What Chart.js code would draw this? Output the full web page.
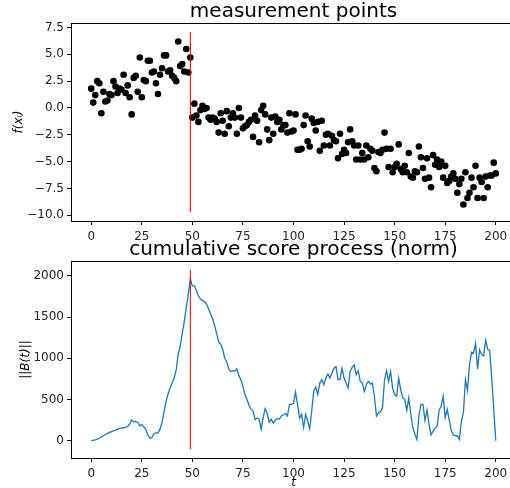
<!DOCTYPE html>
<html>
<head>
<meta charset="utf-8">
<script src="https://cdn.jsdelivr.net/npm/chart.js@4/dist/chart.umd.min.js"></script>
<style>
  html, body { margin: 0; padding: 0; overflow: hidden; background: #fff; }
  #wrap { position: relative; width: 510px; height: 488px; overflow: hidden; }
  canvas { position: absolute; left: 0; }
  #top { top: 0; }
  #bottom { top: 230px; }
</style>
</head>
<body>
<div id="wrap">
  <canvas id="top" width="520" height="246"></canvas>
  <canvas id="bottom" width="520" height="260"></canvas>
</div>
<script>
// measurement points f(x_i), t = 0..200
const measurements = [
  1.8, 0.5, 1.2, 2.5, 2.3, -0.5, 1.5, 0.6, 0.7, 1.3,
  1.2, 2.5, 2.0, 1.4, 1.8, 1.7, 3.1, 1.4, 2.1, 1.0,
  -0.6, 2.8, 3.0, 1.5, 4.7, 1.0, 2.6, 2.5, 4.4, 4.4,
  3.3, 3.4, 2.3, 1.3, 3.1, 3.7, 4.9, 4.9, 3.4, 3.5,
  3.0, 2.8, 2.5, 6.2, 3.9, 4.1, 3.4, 5.5, 3.3, 4.7,
  -0.9, 0.4, -0.7, -1.3, -0.2, 0.2, -0.1, 0.0, -0.9, -1.1,
  -0.9, -1.0, -1.3, -2.3, -0.5, -1.2, -2.4, -0.3, -1.7, -0.9,
  -0.5, -0.9, -2.4, 0.0, -0.9, -1.9, -1.7, -1.6, -1.3, -1.1,
  -2.7, -0.7, -1.2, -3.2, -0.2, 0.2, -0.6, -2.0, -3.0, -0.9,
  -2.4, -0.8, -1.3, -1.1, -2.0, -1.6, -1.6, -2.3, -0.5, -2.2,
  -2.1, -0.6, -3.9, -3.9, -3.8, -1.6, -0.7, -3.1, -3.6, -1.0,
  -1.4, -2.1, -1.3, -4.0, -1.2, -3.5, -2.5, -2.4, -3.5, -2.6,
  -3.0, -3.1, -4.7, -2.4, -4.3, -3.9, -4.2, -3.2, -2.0, -3.1,
  -3.5, -4.8, -3.5, -4.8, -4.2, -4.8, -3.5, -4.6, -3.8, -4.0,
  -5.6, -5.9, -4.1, -4.2, -3.9, -2.3, -3.8, -5.5, -3.8, -6.0,
  -5.5, -5.2, -3.4, -5.7, -6.0, -5.4, -6.0, -4.2, -6.4, -6.5,
  -5.9, -6.0, -3.6, -4.6, -5.6, -6.6, -4.7, -6.5, -7.4, -4.4,
  -5.3, -4.8, -5.5, -5.0, -6.5, -5.4, -7.0, -6.8, -6.4, -6.1,
  -6.6, -7.9, -7.1, -6.6, -9.0, -6.0, -8.4, -7.9, -6.5, -7.4,
  -5.4, -8.4, -6.5, -6.9, -8.4, -6.4, -7.4, -6.3, -6.3, -5.1,
  -6.1
];

// cumulative score process norm ||B(t)||, t = 0..200
const scoreNorm = [
  0, 5, 10, 20, 30, 45, 60, 75, 90, 100,
  110, 118, 128, 140, 150, 155, 152, 165, 170, 205,
  250, 230, 235, 225, 180, 195, 170, 135, 70, 30,
  40, 85, 95, 95, 140, 220, 350, 480, 570, 640,
  700, 760, 860, 1050, 1150, 1300, 1450, 1620, 1780, 1960,
  1880, 1880, 1820, 1760, 1720, 1700, 1690, 1660, 1600, 1540,
  1480, 1400, 1300, 1200, 1170, 1110, 1000, 960, 870, 840,
  850, 845, 870, 790, 740, 660, 560, 500, 430, 380,
  360, 255, 275, 260, 140, 280, 390, 330, 225, 260,
  215, 250, 270, 260, 300, 315, 330, 300, 440, 440,
  450, 590, 440, 275, 320, 160, 320, 240, 145, 360,
  600, 650, 560, 700, 740, 680, 760, 810, 760, 820,
  880, 900, 740, 745, 880, 760, 700, 640, 840, 890,
  920, 800, 850, 720, 700, 600, 680, 720, 690, 700,
  540, 300, 340, 350, 400, 740, 850, 720, 840, 640,
  560, 540, 760, 620, 520, 500, 370, 520, 320, 160,
  80, 15, 300, 440, 440, 245, 370, 200, 70, 120,
  150, 180, 370, 420, 540, 280, 380, 250, 120, 70,
  60, 60, 15, 235, 340, 740, 610, 920, 1075, 1065,
  1180, 870, 1105, 1045, 1030, 1220, 1110, 1100, 760, 380,
  0
];

const changePoint = 49;
const topVline = [-9.7, 7.08];
const bottomVline = [-105, 2075];

const xTicks = [0, 25, 50, 75, 100, 125, 150, 175, 200];
const yTopTicks = [-10, -7.5, -5, -2.5, 0, 2.5, 5, 7.5];
const yBottomTicks = [0, 500, 1000, 1500, 2000];

const FONT = 'DejaVu Sans';
const INK = '#000';

function fmtMinus(s) { return String(s).replace('-', '\u2212'); }

// draws the full axes frame like matplotlib
const frame = {
  id: 'frame',
  afterDatasetsDraw(chart) {
    const a = chart.chartArea, ctx = chart.ctx;
    ctx.save();
    ctx.strokeStyle = INK;
    ctx.lineWidth = 1;
    ctx.strokeRect(Math.round(a.left) + 0.5, Math.round(a.top) + 0.5,
      Math.round(a.right - a.left), Math.round(a.bottom - a.top));
    ctx.restore();
  }
};

function xScale(height, title) {
  return {
    type: 'linear',
    min: -10, max: 210,
    afterBuildTicks: s => { s.ticks = xTicks.map(v => ({ value: v })); },
    afterFit: s => { s.height = height; },
    grid: { drawOnChartArea: false, drawTicks: true, tickLength: 4, color: INK },
    border: { display: false },
    ticks: { color: '#222', font: { family: FONT, size: 12 }, padding: 5, maxRotation: 0 },
    title: title ? { display: true, text: title, color: INK,
      font: { family: FONT, size: 12, style: 'italic' }, padding: { top: 0, bottom: 0 } } : { display: false }
  };
}

function yScale(min, max, ticks, fmt, title, pad) {
  return {
    type: 'linear',
    min: min, max: max,
    afterBuildTicks: s => { s.ticks = ticks.map(v => ({ value: v })); },
    afterFit: s => { s.width = 71; },
    grid: { drawOnChartArea: false, drawTicks: true, tickLength: 4, color: INK },
    border: { display: false },
    ticks: { color: '#222', font: { family: FONT, size: 12 }, padding: 3, callback: fmt },
    title: { display: true, text: title, color: INK,
      font: { family: FONT, size: 12, style: 'italic' }, padding: { top: pad, bottom: 0 } }
  };
}

function titleOpts(text, top) {
  return { display: true, text: text, color: INK, fullSize: false,
    font: { family: FONT, size: 20, weight: 'normal', lineHeight: 1.15 },
    padding: { top: top, bottom: 0 } };
}

const common = {
  responsive: false,
  animation: false,
  devicePixelRatio: 1,
  layout: { padding: { left: 0, right: 4, top: 0, bottom: 0 } },
  plugins: { legend: { display: false }, tooltip: { enabled: false } }
};

// top: measurement points
new Chart(document.getElementById('top').getContext('2d'), {
  type: 'scatter',
  data: {
    datasets: [
      {
        data: measurements.map((v, i) => ({ x: i, y: v })),
        pointRadius: 3.3,
        pointBorderWidth: 0,
        pointBackgroundColor: '#000',
        order: 2
      },
      {
        data: topVline.map(v => ({ x: changePoint, y: v })),
        showLine: true,
        borderColor: '#e00000',
        borderWidth: 1,
        pointRadius: 0,
        order: 1
      }
    ]
  },
  options: Object.assign({}, common, {
    scales: {
      x: xScale(25, null),
      y: yScale(-10.54, 7.92, yTopTicks, v => fmtMinus(v.toFixed(1)), 'f(x\u1D62)', 12)
    },
    plugins: Object.assign({}, common.plugins, {
      title: titleOpts('measurement points', 0)
    })
  }),
  plugins: [frame]
});

// bottom: cumulative score process
new Chart(document.getElementById('bottom').getContext('2d'), {
  type: 'scatter',
  data: {
    datasets: [
      {
        data: scoreNorm.map((v, i) => ({ x: i, y: v })),
        showLine: true,
        borderColor: '#1f77b4',
        borderWidth: 1.3,
        pointRadius: 0,
        order: 2
      },
      {
        data: bottomVline.map(v => ({ x: changePoint, y: v })),
        showLine: true,
        borderColor: '#e00000',
        borderWidth: 1,
        pointRadius: 0,
        order: 1
      }
    ]
  },
  options: Object.assign({}, common, {
    scales: {
      x: xScale(32, 't'),
      y: yScale(-210, 2182, yBottomTicks, v => String(v), '||B(t)||', 19)
    },
    plugins: Object.assign({}, common.plugins, {
      title: titleOpts('cumulative score process (norm)', 8)
    })
  }),
  plugins: [frame]
});
</script>
</body>
</html>
